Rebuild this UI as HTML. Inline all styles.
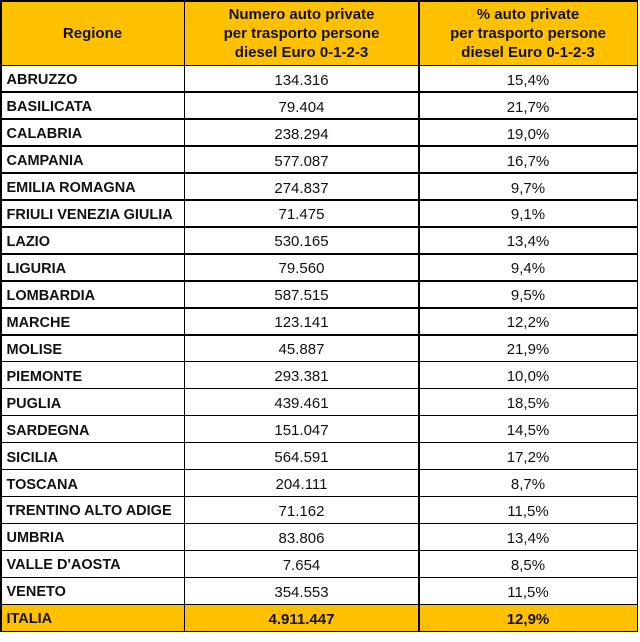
<!DOCTYPE html>
<html><head><meta charset="utf-8"><style>
body{margin:0;width:640px;height:642px;background:#fff;overflow:hidden;font-family:"Liberation Sans",sans-serif;}
#t{position:absolute;left:0;top:0;width:638px;height:632px;box-sizing:border-box;padding:1.5px;background:#000;display:grid;grid-template-columns:182px 233px 1fr;grid-template-rows:63px repeat(21,1fr);gap:1.5px;}
#t div{background:#fff;display:flex;align-items:center;font-size:15px;color:#111;padding-top:3px;box-sizing:border-box;}
#t .h{background:#FFC000;font-weight:bold;justify-content:center;text-align:center;line-height:19px;font-size:15px;padding-top:1px;}
#t .r{font-weight:bold;padding-left:5px;font-size:14.5px;}
#t .n{justify-content:center;}
#t .tot{background:#FFC000;font-weight:bold;}
</style></head><body>
<div id="t">
<div class="h">Regione</div>
<div class="h">Numero auto private<br>per trasporto persone<br>diesel Euro 0-1-2-3</div>
<div class="h">% auto private<br>per trasporto persone<br>diesel Euro 0-1-2-3</div>
<div class="r">ABRUZZO</div><div class="n">134.316</div><div class="n">15,4%</div>
<div class="r">BASILICATA</div><div class="n">79.404</div><div class="n">21,7%</div>
<div class="r">CALABRIA</div><div class="n">238.294</div><div class="n">19,0%</div>
<div class="r">CAMPANIA</div><div class="n">577.087</div><div class="n">16,7%</div>
<div class="r">EMILIA ROMAGNA</div><div class="n">274.837</div><div class="n">9,7%</div>
<div class="r">FRIULI VENEZIA GIULIA</div><div class="n">71.475</div><div class="n">9,1%</div>
<div class="r">LAZIO</div><div class="n">530.165</div><div class="n">13,4%</div>
<div class="r">LIGURIA</div><div class="n">79.560</div><div class="n">9,4%</div>
<div class="r">LOMBARDIA</div><div class="n">587.515</div><div class="n">9,5%</div>
<div class="r">MARCHE</div><div class="n">123.141</div><div class="n">12,2%</div>
<div class="r">MOLISE</div><div class="n">45.887</div><div class="n">21,9%</div>
<div class="r">PIEMONTE</div><div class="n">293.381</div><div class="n">10,0%</div>
<div class="r">PUGLIA</div><div class="n">439.461</div><div class="n">18,5%</div>
<div class="r">SARDEGNA</div><div class="n">151.047</div><div class="n">14,5%</div>
<div class="r">SICILIA</div><div class="n">564.591</div><div class="n">17,2%</div>
<div class="r">TOSCANA</div><div class="n">204.111</div><div class="n">8,7%</div>
<div class="r">TRENTINO ALTO ADIGE</div><div class="n">71.162</div><div class="n">11,5%</div>
<div class="r">UMBRIA</div><div class="n">83.806</div><div class="n">13,4%</div>
<div class="r">VALLE D'AOSTA</div><div class="n">7.654</div><div class="n">8,5%</div>
<div class="r">VENETO</div><div class="n">354.553</div><div class="n">11,5%</div>
<div class="r tot">ITALIA</div><div class="n tot">4.911.447</div><div class="n tot">12,9%</div>
</div>
</body></html>
